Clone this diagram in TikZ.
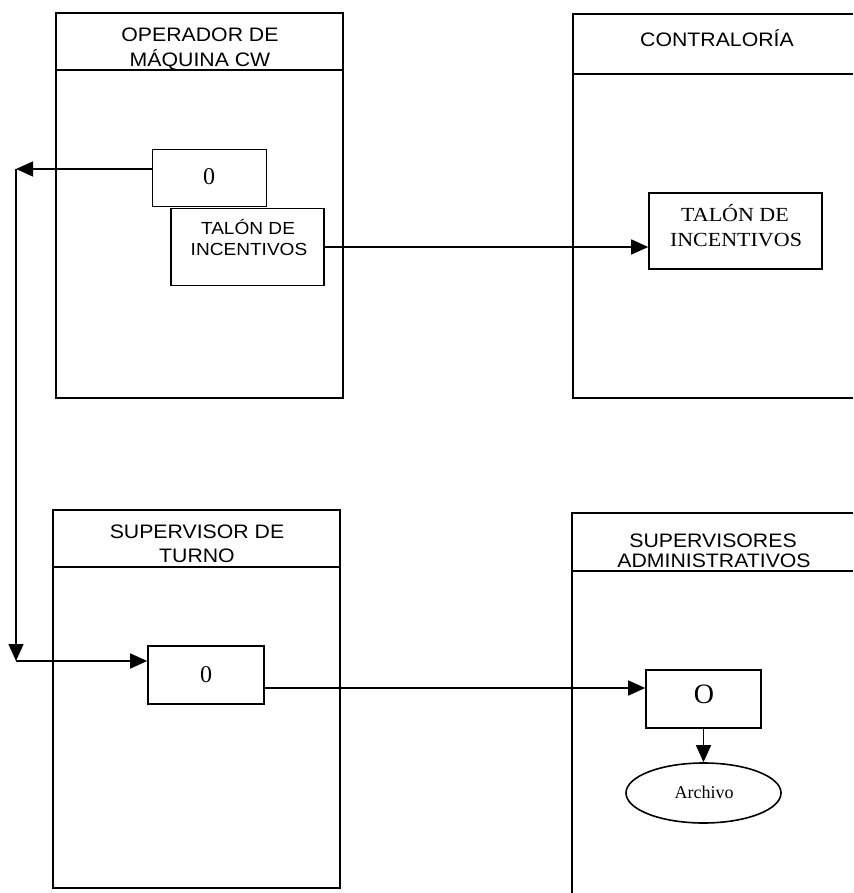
\documentclass[tikz,border=0pt]{standalone}
\usepackage{fontspec}
\setmainfont{Liberation Serif}
\newfontfamily\hdfont[FakeStretch=1.09]{Liberation Sans}
\newfontfamily\tmfont[FakeStretch=1.1]{Liberation Serif}
\usetikzlibrary{arrows.meta,shapes.geometric}
\begin{document}
\begin{tikzpicture}[x=1pt,y=-1pt,
  lane/.style={line width=1.8pt},
  procbox/.style={draw,line width=1.6pt,rectangle,inner sep=0pt},
  hdtext/.style={anchor=base,inner sep=0pt,font=\hdfont\fontsize{19.5}{24}\selectfont},
  sanstext/.style={anchor=base,inner sep=0pt,font=\hdfont\fontsize{17.5}{21}\selectfont},
  serifbig/.style={anchor=base,inner sep=0pt,font=\tmfont\fontsize{20}{24}\selectfont},
  digit/.style={anchor=base,inner sep=0pt,font=\fontsize{24}{26}\selectfont},
  flow/.style={line width=1.5pt,-{Triangle[length=17pt,width=15pt]}},
]
\useasboundingbox (0,0) rectangle (853,893);

% swimlanes
\draw[lane] (56,13) rectangle (343,398);
\draw[lane] (56,70) -- (343,70);
\draw[lane] (853,14) -- (573,14) -- (573,398) -- (853,398);
\draw[lane] (573,74) -- (853,74);
\draw[lane] (53,510) rectangle (340,888);
\draw[lane] (53,567) -- (340,567);
\draw[lane] (853,513) -- (572,513) -- (572,893);
\draw[lane] (572,571) -- (853,571);

% headers
\node[hdtext] (h1a) at (200,42) {OPERADOR DE};
\node[hdtext] (h1b) at (200,67) {MÁQUINA CW};
\node[hdtext] (h2a) at (717,47) {CONTRALORÍA};
\node[hdtext] (h3a) at (197,538) {SUPERVISOR DE};
\node[hdtext] (h3b) at (197,562) {TURNO};
\node[hdtext] (h4a) at (713,547) {SUPERVISORES};
\node[hdtext] (h4b) at (714,567) {ADMINISTRATIVOS};

% process boxes
\node[procbox,minimum width=114pt,minimum height=57pt] (op0) at (209.5,178) {};
\node[digit] (op0t) at (209,185) {0};
\node[procbox,minimum width=153pt,minimum height=77pt] (tal1) at (247.5,247) {};
\node[sanstext] (tal1a) at (248,234) {TALÓN DE};
\node[sanstext] (tal1b) at (249,255) {INCENTIVOS};

\node[procbox,minimum width=173pt,minimum height=76pt] (tal2) at (735.5,231) {};
\node[serifbig] (tal2a) at (735,222) {TALÓN DE};
\node[serifbig] (tal2b) at (736,247) {INCENTIVOS};

\node[procbox,minimum width=116pt,minimum height=58pt] (st0) at (206,675) {};
\node[digit] (st0t) at (206,682) {0};

\node[procbox,minimum width=115pt,minimum height=58pt] (obox) at (703.5,699) {};
\node[anchor=base,inner sep=0pt,font=\fontsize{28}{30}\selectfont] (oboxt) at (704,703) {O};

\node[draw,ellipse,line width=1.6pt,minimum width=155pt,minimum height=60pt,inner sep=0pt] (arch) at (703.5,793) {};
\node[anchor=base,inner sep=0pt,font=\fontsize{18}{20}\selectfont] (archt) at (704,798) {Archivo};

% connectors
\coordinate (c1) at (16,169);
\coordinate (c2) at (16,661);
\coordinate (r3) at (0,688);
\draw[flow] (op0.west |- c1) -- (c1);
\draw[flow] (c1) -- (c2);
\draw[flow] (c2) -- (st0.west |- c2);
\draw[flow] (tal1.east) -- (tal1.east -| tal2.west);
\draw[flow] (st0.east |- r3) -- (obox.west |- r3);
\draw[flow] (obox.south) -- (arch.north);
\end{tikzpicture}
\end{document}
